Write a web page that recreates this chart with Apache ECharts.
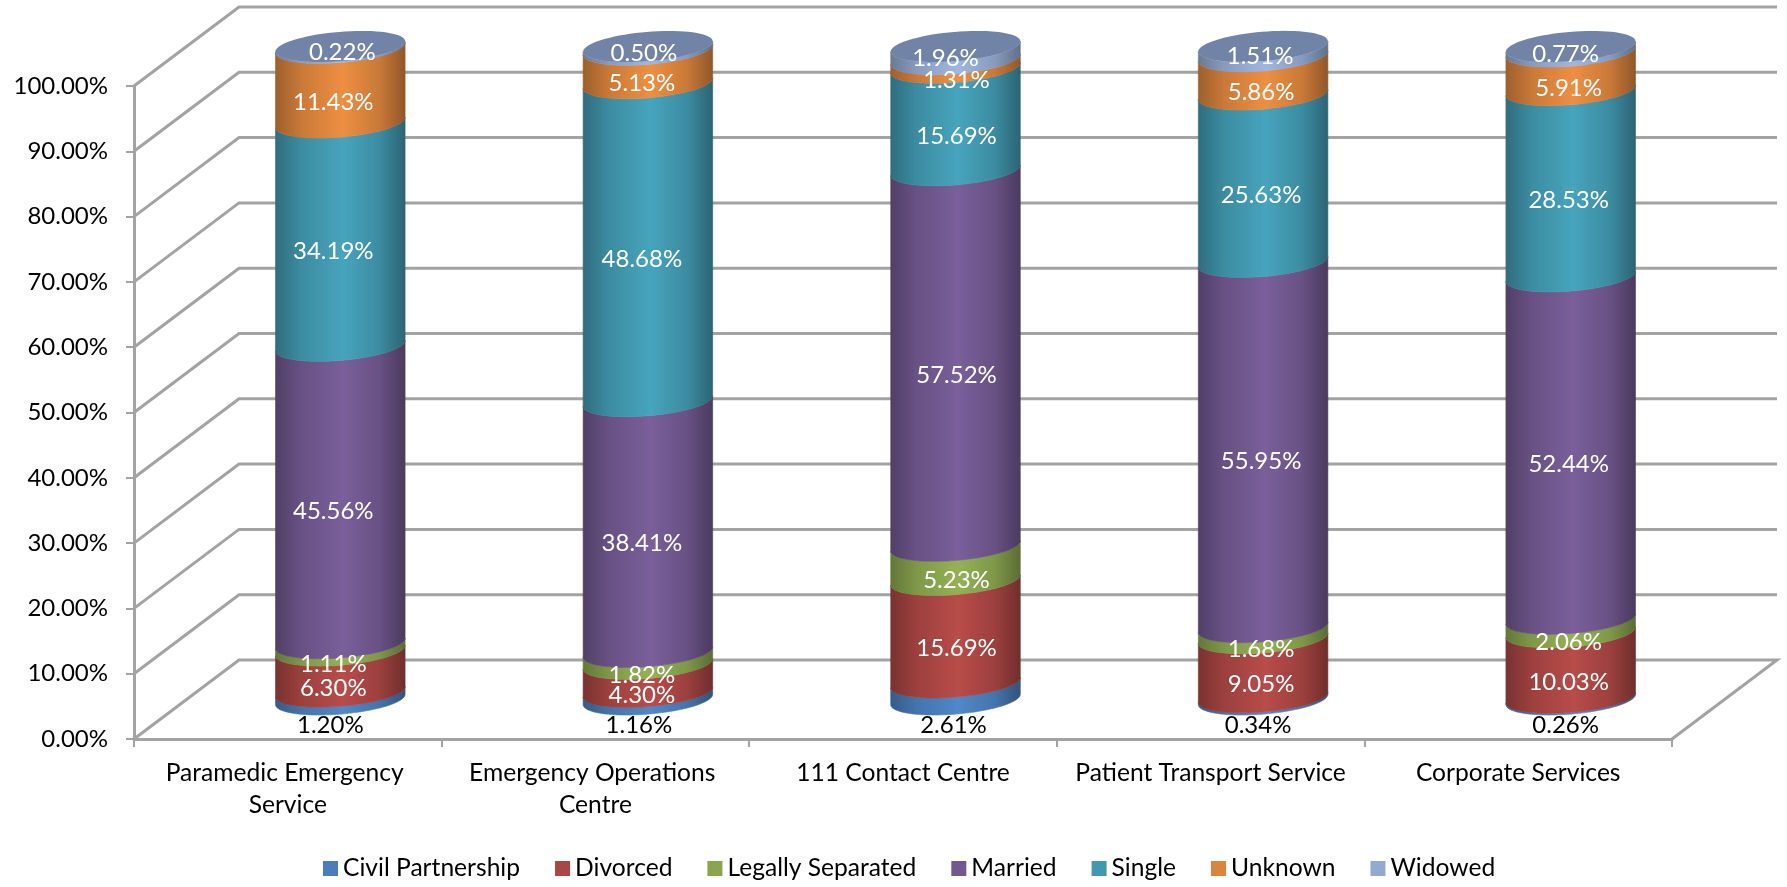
<!DOCTYPE html>
<html><head><meta charset="utf-8">
<style>html,body{margin:0;padding:0;background:#fff}#c{width:1787px;height:887px}</style>
<script src="https://cdn.jsdelivr.net/npm/echarts@6/dist/echarts.min.js"></script>
</head><body><div id="c"></div>
<script>
const categories = ['Paramedic Emergency Service','Emergency Operations Centre','111 Contact Centre','Patient Transport Service','Corporate Services'];
const seriesNames = ['Civil Partnership','Divorced','Legally Separated','Married','Single','Unknown','Widowed'];
const civilPartnership = [1.20,1.16,2.61,0.34,0.26];
const divorced = [6.30,4.30,15.69,9.05,10.03];
const legallySeparated = [1.11,1.82,5.23,1.68,2.06];
const married = [45.56,38.41,57.52,55.95,52.44];
const single = [34.19,48.68,15.69,25.63,28.53];
const unknown = [11.43,5.13,1.31,5.86,5.91];
const widowed = [0.22,0.50,1.96,1.51,0.77];
const yTicks = [0,10,20,30,40,50,60,70,80,90,100];
const seriesValues = [civilPartnership,divorced,legallySeparated,married,single,unknown,widowed];

const colors = ['#4A7EBB','#AA4643','#89A54E','#71588F','#4198AF','#DB843D','#93A9CF'];
const FONT = 'Lato, "Open Sans", sans-serif';
const LABEL_SIZE = 24;
const DEPTH_X = 105, DEPTH_Y = -79, BAND_RATIO = 0.4226;
const TILT = 4.8*Math.PI/180, SEMI_B = 14.6;
const labelShiftX = [-7,-6,1,-2,-2];
const topLabelShiftX = [2,-4,-10,-3,-5];

function shade(hex,f){
  const n=parseInt(hex.slice(1),16);
  const c=[n>>16&255,n>>8&255,n&255].map(v=>Math.min(255,Math.round(v*f)));
  return 'rgb('+c.join(',')+')';
}
function sideGradient(hex){
  return {type:'linear',x:0,y:0,x2:1,y2:0,colorStops:[
    {offset:0,color:shade(hex,0.72)},{offset:0.2,color:shade(hex,0.92)},
    {offset:0.52,color:shade(hex,1.08)},{offset:0.8,color:shade(hex,0.92)},{offset:1,color:shade(hex,0.66)}]};
}
function ellipsePoint(cx,cy,a,t){
  const c=Math.cos(TILT),s=Math.sin(TILT);
  return [cx+a*Math.cos(t)*c+SEMI_B*Math.sin(t)*s, cy-a*Math.cos(t)*s+SEMI_B*Math.sin(t)*c];
}
function frontArc(cx,cy,a){
  const t0=Math.atan((SEMI_B/a)*Math.tan(TILT)), pts=[];
  for(let i=0;i<=48;i++) pts.push(ellipsePoint(cx,cy,a,t0+Math.PI*i/48));
  return pts;
}
function makeSeries(name,si){
  const rows=categories.map((_,i)=>{
    let base=0; for(let k=0;k<si;k++) base+=seriesValues[k][i];
    return [i,base,base+seriesValues[si][i],seriesValues[si][i]];
  });
  const isFirst=si===0,isLast=si===seriesNames.length-1;
  return {
    type:'custom',name,z:3,clip:false,
    itemStyle:{color:colors[si]},
    encode:{x:0,y:[1,2]},
    data:rows,
    renderItem(params,api){
      const i=api.value(0),lo=api.value(1),hi=api.value(2),val=api.value(3);
      const a=api.size([1,0])[0]*BAND_RATIO/2;
      const pLo=api.coord([i,lo]),pHi=api.coord([i,hi]);
      const cx=pLo[0]+DEPTH_X/2;
      const yLo=pLo[1]+DEPTH_Y/2,yHi=pHi[1]+DEPTH_Y/2;
      const pts=frontArc(cx,yLo,a).concat(frontArc(cx,yHi,a).reverse());
      const grad=sideGradient(colors[si]);
      const children=[{type:'polygon',shape:{points:pts},style:{fill:grad,stroke:grad,lineWidth:0.6}}];
      if(isLast){
        children.push({type:'polygon',shape:{points:Array.from({length:73},(_,k)=>ellipsePoint(cx,yHi,a,k*Math.PI/36))},
          style:{fill:'#7184A8'},z2:1});
      }
      const mid=api.coord([i,(lo+hi)/2])[1]+DEPTH_Y/2;
      const labelY=isFirst?yLo+26:(isLast?mid+5:mid+17);
      const labelX=cx+(isLast?topLabelShiftX[i]:(isFirst?labelShiftX[i]-3:labelShiftX[i]));
      children.push({type:'text',z2:20,style:{
        x:labelX,y:labelY,text:val.toFixed(2)+'%',align:'center',verticalAlign:'middle',
        fontFamily:FONT,fontSize:LABEL_SIZE,fill:isFirst?'#000':'#fff'}});
      return {type:'group',children};
    }
  };
}
const wallSeries={
  type:'custom',silent:true,z:1,clip:false,
  encode:{y:0},
  data:yTicks.map(v=>[v]),
  renderItem(params,api){
    const g=params.coordSys,v=api.value(0),y=api.coord([0,v])[1];
    const pts=[[g.x,y],[g.x+DEPTH_X,y+DEPTH_Y],[g.x+g.width+DEPTH_X,y+DEPTH_Y]];
    if(v===0) pts.push([g.x+g.width,y]);
    return {type:'polyline',shape:{points:pts},style:{fill:'none',stroke:'#A3A3A3',lineWidth:3}};
  }
};
const axisLine={show:true,lineStyle:{color:'#A3A3A3',width:3}};
const chart=echarts.init(document.getElementById('c'),null,{renderer:'canvas'});
chart.setOption({
  animation:false,
  backgroundColor:'#fff',
  grid:{left:134,right:115,top:86,bottom:148,containLabel:false},
  xAxis:{type:'category',data:categories,boundaryGap:true,
    axisLine,axisTick:{show:true,alignWithLabel:false,length:8,lineStyle:{color:'#A3A3A3',width:2}},
    axisLabel:{interval:0,color:'#000',fontFamily:FONT,fontSize:24.6,lineHeight:32,margin:18,width:300,overflow:'break'},
    splitLine:{show:false}},
  yAxis:{type:'value',min:0,max:100,interval:10,
    axisLine,axisTick:{show:true,length:8,lineStyle:{color:'#A3A3A3',width:2}},
    axisLabel:{color:'#000',fontFamily:FONT,fontSize:24,margin:26,formatter:v=>v.toFixed(2)+'%'},
    splitLine:{show:false}},
  legend:{data:seriesNames,left:318,top:851,icon:'rect',itemWidth:15,itemHeight:15,itemGap:35,
    textStyle:{color:'#000',fontFamily:FONT,fontSize:24.6}},
  series:[wallSeries].concat(seriesNames.map(makeSeries))
});
</script></body></html>
